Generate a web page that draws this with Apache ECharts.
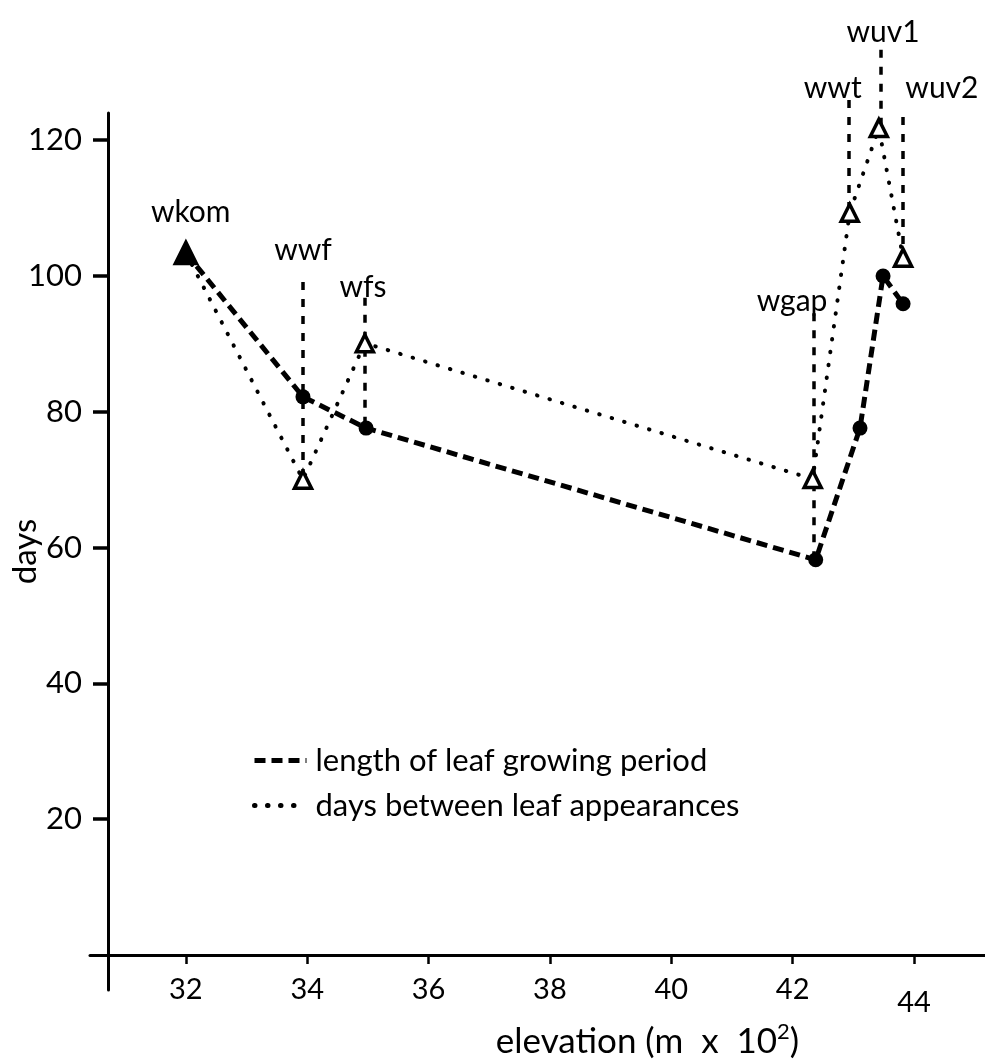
<!DOCTYPE html>
<html>
<head>
<meta charset="utf-8">
<script src="https://cdn.jsdelivr.net/npm/echarts@6/dist/echarts.min.js"></script>
<style>
  html, body { margin: 0; padding: 0; background: #fff; }
  #chart { width: 985px; height: 1060px; }
</style>
</head>
<body>
<div id="chart"></div>
<script>
// ---- data ----
const siteNames = ['wkom', 'wwf', 'wfs', 'wgap', 'wwt', 'wuv1', 'wuv2'];

// length of leaf growing period (filled circles, dashed line)
const growElev = [32.0, 33.93, 34.97, 42.38, 43.11, 43.49, 43.82];
const growDays = [103.4, 82.2, 77.6, 58.2, 77.6, 100.0, 95.9];

// days between leaf appearances (open triangles, dotted line)
const apprElev = [32.0, 33.93, 34.95, 42.33, 42.94, 43.42, 43.82];
const apprDays = [103.4, 70.0, 90.1, 70.1, 109.3, 121.8, 102.7];

// vertical site drop lines (elevation, top days, bottom days)
const dropElev = [33.93, 34.95, 42.35, 42.92, 43.45, 43.82];
const dropTop = [99.1, 96.8, 94.5, 125.9, 133.3, 123.4];
const dropBottom = [70.0, 77.6, 58.2, 109.3, 121.8, 102.7];

// site label anchors (data units)
const labelElev = [32.08, 33.93, 34.92, 41.99, 42.66, 43.49, 44.46];
const labelDays = [109.3, 103.8, 98.4, 96.2, 127.7, 135.9, 127.7];

const xTicks = [32, 34, 36, 38, 40, 42, 44];
const yTicks = [20, 40, 60, 80, 100, 120];

const seriesNames = ['length of leaf growing period', 'days between leaf appearances'];

// ---- chart ----
const FONT = 'Lato';
const chart = echarts.init(document.getElementById('chart'), null, { renderer: 'canvas' });

const growData = growElev.map((x, i) => {
  const item = { value: [x, growDays[i]] };
  if (i === 0) { item.symbol = 'triangle'; item.symbolSize = 21; }
  return item;
});
const apprData = apprElev.map((x, i) => {
  const item = { value: [x, apprDays[i]] };
  if (i === 0) {
    item.symbol = 'triangle'; item.symbolSize = 21;
    item.itemStyle = { color: '#000', borderColor: '#000' };
  }
  return item;
});

const option = {
  backgroundColor: '#fff',
  animation: false,
  textStyle: { fontFamily: FONT, color: '#000' },
  grid: { left: 90, right: 0, top: 113, bottom: 70, containLabel: false, outerBoundsMode: 'none' },
  legend: {
    data: seriesNames,
    orient: 'vertical',
    left: 247,
    top: 740,
    itemWidth: 52,
    itemHeight: 14,
    itemGap: 14,
    selectedMode: false,
    itemStyle: { opacity: 0 },
    lineStyle: { width: 5 },
    textStyle: { fontSize: 31, color: '#000', fontFamily: FONT, padding: [0, 0, 0, 4] }
  },
  xAxis: {
    type: 'value',
    min: 30.42,
    max: 45.17,
    offset: -35,
    axisLine: { show: true, onZero: false, lineStyle: { color: '#000', width: 3 } },
    axisTick: { show: true, customValues: xTicks, length: 9, lineStyle: { color: '#000', width: 2.5 } },
    axisLabel: {
      customValues: xTicks,
      fontSize: 29,
      margin: 20,
      color: '#000',
      fontFamily: FONT,
      formatter: v => (v === 44 ? '{low|44}' : String(v)),
      rich: { low: { fontSize: 29, fontFamily: FONT, color: '#000', padding: [13, 0, 0, 0] } }
    },
    splitLine: { show: false },
    name: '{n|elevation (m  x  10}{sup|2}{n|)}',
    nameLocation: 'middle',
    nameGap: 66,
    nameMoveOverlap: false,
    nameTextStyle: {
      fontSize: 35,
      color: '#000',
      fontFamily: FONT,
      padding: [0, 0, 0, 220],
      rich: {
        n: { fontSize: 35, fontFamily: FONT, color: '#000', lineHeight: 42 },
        sup: { fontSize: 22, fontFamily: FONT, color: '#000', verticalAlign: 'top', lineHeight: 22 }
      }
    }
  },
  yAxis: {
    type: 'value',
    min: -5.15,
    max: 124,
    position: 'left',
    offset: -18,
    axisLine: { show: true, onZero: false, lineStyle: { color: '#000', width: 3 } },
    axisTick: { show: true, customValues: yTicks, length: 15, lineStyle: { color: '#000', width: 3.5 } },
    axisLabel: { customValues: yTicks, fontSize: 31, margin: 26, color: '#000', fontFamily: FONT },
    splitLine: { show: false },
    name: 'days',
    nameLocation: 'middle',
    nameGap: 66,
    nameMoveOverlap: false,
    nameTextStyle: { fontSize: 33, color: '#000', fontFamily: FONT }
  },
  series: [
    {
      name: 'drops',
      type: 'lines',
      coordinateSystem: 'cartesian2d',
      clip: false,
      silent: true,
      z: 1,
      lineStyle: { color: '#000', width: 3.5, type: [8, 9], opacity: 1, curveness: 0 },
      data: dropElev.map((x, i) => ({ coords: [[x, dropTop[i]], [x, dropBottom[i]]] }))
    },
    {
      name: seriesNames[1],
      type: 'line',
      clip: false,
      z: 2,
      symbol: 'triangle',
      symbolSize: 17,
      itemStyle: { color: '#fff', borderColor: '#000', borderWidth: 3.5 },
      lineStyle: { color: '#000', width: 4, type: [0.5, 12.5], cap: 'round' },
      data: apprData
    },
    {
      name: seriesNames[0],
      type: 'line',
      clip: false,
      z: 3,
      symbol: 'circle',
      symbolSize: 15,
      itemStyle: { color: '#000' },
      lineStyle: { color: '#000', width: 5, type: [11, 6] },
      data: growData
    },
    {
      name: 'labels',
      type: 'scatter',
      clip: false,
      silent: true,
      z: 5,
      symbolSize: 1,
      itemStyle: { color: 'transparent', opacity: 1 },
      label: {
        show: true,
        position: 'inside',
        formatter: '{b}',
        fontSize: 30,
        color: '#000',
        opacity: 1,
        textBorderWidth: 0,
        fontFamily: FONT
      },
      data: labelElev.map((x, i) => ({ name: siteNames[i], value: [x, labelDays[i]] }))
    }
  ]
};
chart.setOption(option);
</script>
</body>
</html>
